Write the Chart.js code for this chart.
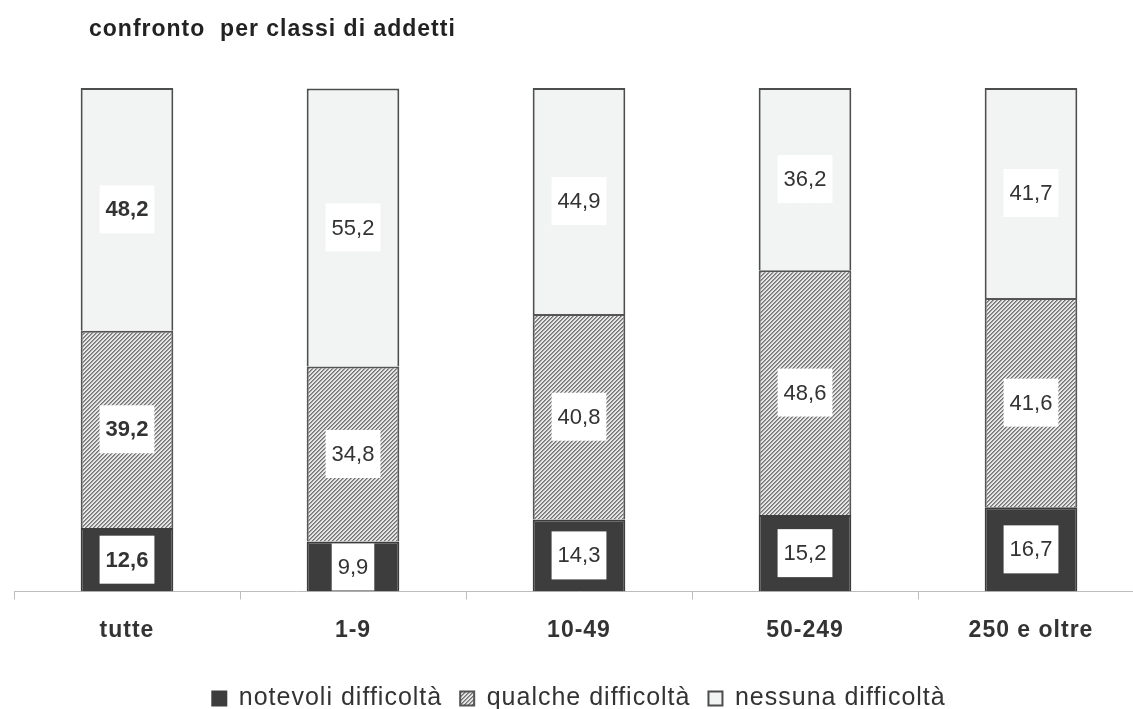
<!DOCTYPE html>
<html>
<head>
<meta charset="utf-8">
<script src="https://cdn.jsdelivr.net/npm/chart.js@4.4.1/dist/chart.umd.min.js"></script>
<style>
  html, body { margin: 0; padding: 0; background: #ffffff; overflow: hidden; }
  #wrap { position: absolute; left: 0; top: 0; width: 1156px; height: 723px; }
</style>
</head>
<body>
<div id="wrap"><canvas id="c"></canvas></div>
<script>
const titleText = 'confronto  per classi di addetti';
const categories = ['tutte', '1-9', '10-49', '50-249', '250 e oltre'];
const seriesNames = ['notevoli difficoltà', 'qualche difficoltà', 'nessuna difficoltà'];
const notevoli = [12.6, 9.9, 14.3, 15.2, 16.7];
const qualche = [39.2, 34.8, 40.8, 48.6, 41.6];
const nessuna = [48.2, 55.2, 44.9, 36.2, 41.7];

const FONT = '"Liberation Sans", Arial, Helvetica, sans-serif';

function makeHatch() {
  const size = 4;
  const cv = document.createElement('canvas');
  cv.width = size; cv.height = size;
  const cx = cv.getContext('2d');
  const img = cx.createImageData(size, size);
  for (let yy = 0; yy < size; yy++) {
    for (let xx = 0; xx < size; xx++) {
      const k = (xx + yy) % size;
      const v = (k === 0) ? 115 : (k === 1 ? 155 : 230);
      const i = (yy * size + xx) * 4;
      img.data[i] = v; img.data[i + 1] = v; img.data[i + 2] = v; img.data[i + 3] = 255;
    }
  }
  cx.putImageData(img, 0, 0);
  return cx.createPattern(cv, 'repeat');
}

const hatch = makeHatch();

const spacingPlugin = {
  id: 'spacing',
  beforeUpdate(chart) { chart.ctx.letterSpacing = '1px'; },
  beforeLayout(chart) { chart.ctx.letterSpacing = '1px'; },
  beforeDraw(chart) { chart.ctx.letterSpacing = '1px'; }
};

const titlePlugin = {
  id: 'leftTitle',
  afterDraw(chart) {
    const ctx = chart.ctx;
    ctx.save();
    ctx.letterSpacing = '1px';
    ctx.font = 'bold 23px ' + FONT;
    ctx.fillStyle = '#222222';
    ctx.textAlign = 'left';
    ctx.textBaseline = 'alphabetic';
    ctx.fillText(titleText, 89, 36);
    ctx.restore();
  }
};

const valueLabelPlugin = {
  id: 'valueLabels',
  afterDatasetsDraw(chart) {
    const ctx = chart.ctx;
    chart.data.datasets.forEach((ds, di) => {
      const meta = chart.getDatasetMeta(di);
      meta.data.forEach((bar, j) => {
        const p = bar.getProps(['x', 'y', 'base', 'width'], true);
        const txt = ds.data[j].toFixed(1).replace('.', ',');
        const font = (j === 0 ? 'bold ' : '') + '22px ' + FONT;
        ctx.save();
        ctx.letterSpacing = '0px';
        ctx.font = font;
        const tw = ctx.measureText(txt).width;
        const bw = tw + 12;
        const bh = 48;
        const cy = (p.y + p.base) / 2;
        ctx.beginPath();
        ctx.rect(p.x - p.width / 2 + 2, Math.min(p.y, p.base) + 2, p.width - 4, Math.abs(p.base - p.y) - 2);
        ctx.clip();
        ctx.fillStyle = '#ffffff';
        ctx.fillRect(p.x - bw / 2, cy - bh / 2, bw, bh);
        ctx.restore();
        ctx.save();
        ctx.letterSpacing = '0px';
        ctx.font = font;
        ctx.fillStyle = '#333333';
        ctx.textAlign = 'center';
        ctx.textBaseline = 'middle';
        ctx.fillText(txt, p.x, cy + 1);
        ctx.restore();
      });
    });
  }
};

new Chart(document.getElementById('c'), {
  type: 'bar',
  data: {
    labels: categories,
    datasets: [
      { label: seriesNames[0], data: notevoli, backgroundColor: '#3d3d3d', borderColor: '#3d3d3d', borderWidth: 2 },
      { label: seriesNames[1], data: qualche, backgroundColor: hatch, borderColor: '#555555', borderWidth: 2 },
      { label: seriesNames[2], data: nessuna, backgroundColor: '#f2f3f3', borderColor: '#4d4d4d', borderWidth: 2 }
    ]
  },
  options: {
    responsive: true,
    maintainAspectRatio: false,
    animation: false,
    datasets: { bar: { categoryPercentage: 1.0, barPercentage: 0.41 } },
    layout: { padding: { left: 14, right: 12, top: 88, bottom: 2 } },
    scales: {
      x: {
        stacked: true,
        offset: true,
        grid: { offset: true, drawOnChartArea: false, drawTicks: true, tickLength: 8, color: '#bdbdbd', lineWidth: 1 },
        border: { display: true, color: '#bdbdbd', width: 1 },
        ticks: { color: '#333333', padding: 17, font: { family: FONT, size: 23, weight: 'bold' } },
        title: { display: true, text: '', font: { size: 1, lineHeight: 1 }, padding: { top: 0, bottom: 6 } }
      },
      y: {
        stacked: true,
        display: false,
        min: 0,
        max: 100
      }
    },
    plugins: {
      legend: {
        display: true,
        position: 'bottom',
        labels: {
          color: '#333333',
          boxWidth: 14,
          boxHeight: 14,
          padding: 18,
          font: { family: FONT, size: 25 }
        }
      },
      title: { display: false },
      tooltip: { enabled: false }
    }
  },
  plugins: [spacingPlugin, valueLabelPlugin, titlePlugin]
});
</script>
</body>
</html>
